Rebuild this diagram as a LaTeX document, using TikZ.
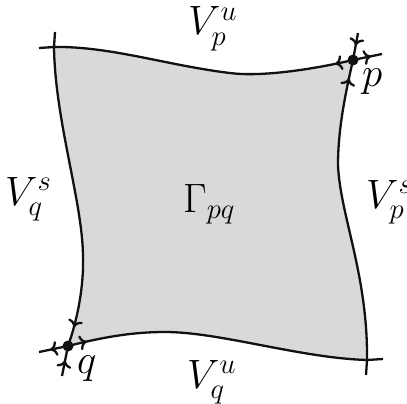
\RequirePackage{fix-cm}
\documentclass[tikz,border=0pt]{standalone}
\usepackage{xcolor}
\usepackage{tikz}
\usetikzlibrary{arrows.meta, decorations.markings}
\definecolor{rgGray}{HTML}{D9D9D9}
\definecolor{rgInk}{HTML}{111111}
\tikzset{
  manifold/.style={
    draw=rgInk, line width=2.3pt
  },
  outarrow/.style={
    postaction={decorate},
    decoration={markings, mark=at position #1 with {\arrow{To[length=7pt, width=15pt]}}}
  },
  inarrow/.style={
    postaction={decorate},
    decoration={markings, mark=at position #1 with {\arrowreversed{To[length=7pt, width=15pt]}}}
  },
  lbl/.style={inner sep=0pt, anchor=base west, font=\fontsize{41}{49}\selectfont}
}

\begin{document}
\begin{tikzpicture}[x=1pt, y=-1pt]
  \useasboundingbox (0,0) rectangle (407,404);
  % corners of the region
  \coordinate (p) at (353,60);
  \coordinate (q) at (68,346);
  \coordinate (tl) at (54,47);
  \coordinate (br) at (367,360);
  % shaded region Gamma_pq
  \fill[rgGray] (tl) .. controls (110,46) and (170,66) .. (230,73)
    .. controls (260,77) and (310,70) .. (p)
    .. controls (345,95) and (338,130) .. (338,165)
    .. controls (340,215) and (368,275) .. (br)
    .. controls (300,358) and (220,332) .. (165,332)
    .. controls (130,332) and (100,338) .. (q)
    .. controls (78,318) and (84,285) .. (83,255)
    .. controls (82,200) and (55,120) .. (tl) -- cycle;
  % unstable manifold of p
  \draw[manifold, outarrow=18pt] (p) .. controls (310,70) and (260,77) .. (230,73)
    .. controls (170,66) and (110,46) .. (tl) -- (39,48);
  \draw[manifold, outarrow=18pt] (p) -- (382,54);
  % stable manifold of p
  \draw[manifold, inarrow=15pt] (p) -- (358,33);
  \draw[manifold, inarrow=19pt] (p) .. controls (345,95) and (338,130) .. (338,165)
    .. controls (340,215) and (368,275) .. (br) -- (366,375);
  % unstable manifold of q
  \draw[manifold, outarrow=18pt] (q) -- (39,352);
  \draw[manifold, outarrow=19pt] (q) .. controls (100,338) and (130,332) .. (165,332)
    .. controls (220,332) and (300,358) .. (br) -- (383,359);
  % stable manifold of q
  \draw[manifold, inarrow=20pt] (q) .. controls (78,318) and (84,285) .. (83,255)
    .. controls (82,200) and (55,120) .. (tl) -- (55,32);
  \draw[manifold, inarrow=15pt] (q) -- (62,376);
  % the two points
  \fill[rgInk] (p) circle[radius=5.5pt];
  \fill[rgInk] (q) circle[radius=5.5pt];
  % labels
  \node[lbl] (lvpu) at (188,35) {$V_p^u$};
  \node[lbl] (lvps) at (366,208) {$V_p^s$};
  \node[lbl] (lvqs) at (5,205) {$V_q^s$};
  \node[lbl] (lvqu) at (187,388) {$V_q^u$};
  \node[lbl] (lgam) at (183,212) {$\Gamma_{pq}$};
  \node[lbl] (lp) at (362,86) {$p$};
  \node[lbl] (lq) at (77,373) {$q$};
\end{tikzpicture}
\end{document}
